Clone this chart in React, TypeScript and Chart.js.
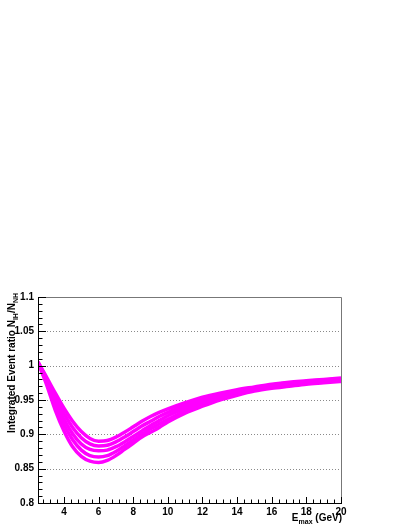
import React, { useEffect, useRef } from "react";
import { Chart, registerables } from "chart.js";

Chart.register(...registerables);

const E_MAX = [2.5, 3, 3.5, 4, 4.5, 5, 5.5, 6, 6.5, 7, 7.5, 8, 8.5, 9, 9.5, 10, 11, 12, 13, 14, 15, 16, 17, 18, 19, 20];

const RATIO_A = [1.005, 0.983, 0.96, 0.938, 0.919, 0.904, 0.894, 0.89, 0.891, 0.896, 0.903, 0.911, 0.919, 0.926, 0.932, 0.937, 0.946, 0.954, 0.96, 0.965, 0.969, 0.973, 0.976, 0.978, 0.98, 0.982];
const RATIO_B = [1.005, 0.981, 0.954, 0.93, 0.91, 0.895, 0.886, 0.883, 0.884, 0.889, 0.896, 0.904, 0.912, 0.919, 0.926, 0.932, 0.942, 0.951, 0.958, 0.963, 0.968, 0.972, 0.975, 0.977, 0.979, 0.981];
const RATIO_C = [1.005, 0.978, 0.948, 0.922, 0.901, 0.886, 0.878, 0.876, 0.877, 0.882, 0.889, 0.897, 0.905, 0.913, 0.92, 0.927, 0.938, 0.948, 0.956, 0.962, 0.966, 0.97, 0.973, 0.976, 0.978, 0.98];
const RATIO_D = [1.005, 0.975, 0.942, 0.914, 0.892, 0.877, 0.869, 0.867, 0.869, 0.875, 0.883, 0.892, 0.9, 0.908, 0.915, 0.922, 0.934, 0.945, 0.953, 0.96, 0.965, 0.969, 0.972, 0.975, 0.977, 0.978];
const RATIO_E = [1.005, 0.972, 0.935, 0.905, 0.882, 0.868, 0.861, 0.859, 0.862, 0.869, 0.878, 0.887, 0.896, 0.903, 0.91, 0.918, 0.931, 0.941, 0.95, 0.957, 0.963, 0.967, 0.97, 0.973, 0.975, 0.977];

const X_TICKS = [4, 6, 8, 10, 12, 14, 16, 18, 20];
const Y_TICKS = [0.8, 0.85, 0.9, 0.95, 1, 1.05, 1.1];
const Y_GRID = [0.85, 0.9, 0.95, 1, 1.05];

const FONT = "'Liberation Sans', Arial, Helvetica, sans-serif";
const MAGENTA = "#ff00ff";

const rootPlugin = {
  id: "rootStyle",
  beforeDatasetsDraw(chart: any) {
    const { ctx, chartArea } = chart;
    const y = chart.scales.y;
    ctx.save();
    ctx.strokeStyle = "#8a8a8a";
    ctx.lineWidth = 1;
    ctx.setLineDash([1, 2]);
    for (const v of Y_GRID) {
      const py = Math.round(y.getPixelForValue(v)) + 0.5;
      ctx.beginPath();
      ctx.moveTo(chartArea.left, py);
      ctx.lineTo(chartArea.right, py);
      ctx.stroke();
    }
    ctx.restore();
  },
  afterDatasetsDraw(chart: any) {
    const { ctx, chartArea } = chart;
    const xs = chart.scales.x;
    const ys = chart.scales.y;
    const L = chartArea.left, R = chartArea.right, T = chartArea.top, B = chartArea.bottom;
    ctx.save();
    ctx.lineWidth = 1;
    ctx.strokeStyle = "#777";
    ctx.beginPath();
    ctx.moveTo(L, T + 0.5);
    ctx.lineTo(R + 0.5, T + 0.5);
    ctx.lineTo(R + 0.5, B);
    ctx.stroke();
    ctx.strokeStyle = "#000";
    ctx.beginPath();
    ctx.moveTo(L + 0.5, T);
    ctx.lineTo(L + 0.5, B + 0.5);
    ctx.lineTo(R + 1, B + 0.5);
    ctx.stroke();
    for (let i = 0; i <= 30; i++) {
      const v = 0.8 + i * 0.01;
      const py = Math.round(ys.getPixelForValue(v)) + 0.5;
      const len = i % 5 === 0 ? 8 : 4.5;
      ctx.beginPath();
      ctx.moveTo(L, py);
      ctx.lineTo(L + len, py);
      ctx.stroke();
    }
    for (let i = 0; ; i++) {
      const v = 2.8 + i * 0.4;
      if (v > 20.001) break;
      const px = Math.round(xs.getPixelForValue(v)) + 0.5;
      const major = Math.abs(v / 2 - Math.round(v / 2)) < 0.01;
      const len = major ? 6 : 3.5;
      ctx.beginPath();
      ctx.moveTo(px, B);
      ctx.lineTo(px, B - len);
      ctx.stroke();
    }
    ctx.restore();
  },
  afterDraw(chart: any) {
    const { ctx, chartArea } = chart;
    ctx.save();
    ctx.fillStyle = "#000";
    const big = `bold 10px ${FONT}`;
    const small = `bold 7px ${FONT}`;
    const ySegs: [string, boolean][] = [
      ["Integrated Event ratio N", false],
      ["IH", true],
      ["/N", false],
      ["NH", true],
    ];
    let total = 0;
    for (const [t, s] of ySegs) {
      ctx.font = s ? small : big;
      total += ctx.measureText(t).width;
    }
    ctx.translate(15, chartArea.top - 4);
    ctx.rotate(-Math.PI / 2);
    ctx.textBaseline = "alphabetic";
    ctx.textAlign = "left";
    let cx = -total;
    for (const [t, s] of ySegs) {
      ctx.font = s ? small : big;
      ctx.fillText(t, cx, s ? 2.5 : 0);
      cx += ctx.measureText(t).width;
    }
    ctx.restore();
    ctx.save();
    ctx.fillStyle = "#000";
    const xSegs: [string, boolean][] = [
      ["E", false],
      ["max", true],
      [" (GeV)", false],
    ];
    total = 0;
    for (const [t, s] of xSegs) {
      ctx.font = s ? small : big;
      total += ctx.measureText(t).width;
    }
    let x0 = chartArea.right + 1 - total;
    ctx.textBaseline = "alphabetic";
    ctx.textAlign = "left";
    for (const [t, s] of xSegs) {
      ctx.font = s ? small : big;
      ctx.fillText(t, x0, s ? 523.5 : 521);
      x0 += ctx.measureText(t).width;
    }
    ctx.restore();
  },
};

function mk(vals: number[]) {
  return {
    data: E_MAX.map((x, i) => ({ x, y: vals[i] })),
    borderColor: MAGENTA,
    backgroundColor: MAGENTA,
    borderWidth: 3.5,
    pointRadius: 0,
    cubicInterpolationMode: "monotone" as const,
    fill: false,
  };
}

export default function App() {
  const ref = useRef<HTMLCanvasElement | null>(null);
  useEffect(() => {
    if (!ref.current) return;
    const chart = new Chart(ref.current, {
      type: "line",
      data: {
        datasets: [mk(RATIO_A), mk(RATIO_B), mk(RATIO_C), mk(RATIO_D), mk(RATIO_E)],
      },
      options: {
        responsive: false,
        animation: false,
        layout: { padding: { left: 0, top: 297, right: 68, bottom: 0 } },
        plugins: { legend: { display: false }, tooltip: { enabled: false } },
        scales: {
          x: {
            type: "linear",
            min: 2.5,
            max: 20,
            afterBuildTicks: (s: any) => {
              s.ticks = X_TICKS.map((v) => ({ value: v }));
            },
            afterFit: (s: any) => {
              s.height = 26;
            },
            grid: { display: false, drawTicks: false },
            border: { display: false },
            ticks: {
              color: "#000",
              font: { family: FONT, size: 10, weight: "bold" },
              padding: 3,
              maxRotation: 0,
              autoSkip: false,
              callback: (v: any) => String(v),
            },
          },
          y: {
            type: "linear",
            min: 0.8,
            max: 1.1,
            afterBuildTicks: (s: any) => {
              s.ticks = Y_TICKS.map((v) => ({ value: v }));
            },
            afterFit: (s: any) => {
              s.width = 38;
            },
            grid: { display: false, drawTicks: false },
            border: { display: false },
            ticks: {
              color: "#000",
              font: { family: FONT, size: 10, weight: "bold" },
              padding: 4,
              autoSkip: false,
              callback: (v: any) => String(Number(Number(v).toFixed(2))),
            },
          },
        },
      },
      plugins: [rootPlugin],
    });
    return () => chart.destroy();
  }, []);
  return (
    <div style={{ position: "fixed", left: 0, top: 0, width: 409, height: 529, background: "#fff" }}>
      <canvas ref={ref} width={409} height={529} style={{ width: 409, height: 529, display: "block" }} />
    </div>
  );
}
